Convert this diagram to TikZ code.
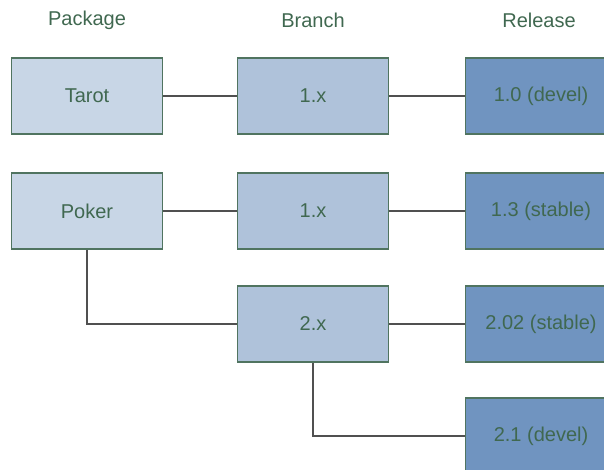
\documentclass[tikz,border=0pt]{standalone}
\usepackage{fontspec}
\setmainfont{Liberation Sans}
\usepackage{xcolor}
\definecolor{pkgfill}{RGB}{200,214,230}
\definecolor{branchfill}{RGB}{175,194,218}
\definecolor{relfill}{RGB}{112,148,192}
\definecolor{boxline}{RGB}{80,116,96}
\definecolor{labelgreen}{RGB}{64,104,80}
\definecolor{wire}{RGB}{80,80,80}

\begin{document}
\begin{tikzpicture}[x=1pt, y=-1pt,
    every node/.style={font=\fontsize{20}{24}\selectfont, text=labelgreen},
    box/.style={draw=boxline, line width=1.5pt, minimum width=151pt, minimum height=76pt, inner sep=0pt},
    pkg/.style={box, fill=pkgfill},
    branch/.style={box, fill=branchfill},
    rel/.style={box, fill=relfill},
    wire/.style={draw=wire, line width=1.6pt}]
    \useasboundingbox (0,0) rectangle (604,470);
    \clip (0,0) rectangle (604,470);

    \node (hpkg) at (87,20) {Package};
    \node (hbranch) at (313,20) {Branch};
    \node (hrel) at (539,20) {Release};

    \node[pkg] (tarot) at (87,96) {Tarot};
    \node[branch] (tarot1) at (313,96) {1.x};
    \node[rel] (tarot10) at (541,96) {1.0 (devel)};

    \node[pkg] (poker) at (87,211) {Poker};
    \node[branch] (poker1) at (313,211) {1.x};
    \node[rel] (poker13) at (541,211) {1.3 (stable)};

    \node[branch] (poker2) at (313,324) {2.x};
    \node[rel] (poker202) at (541,324) {2.02 (stable)};

    \node[rel] (poker21) at (541,436) {2.1 (devel)};

    \draw[wire] (tarot) -- (tarot1) -- (tarot10);
    \draw[wire] (poker) -- (poker1) -- (poker13);
    \draw[wire] (poker2) -- (poker202);
    \draw[wire] (poker.south) |- (poker2.west);
    \draw[wire] (poker2.south) |- (poker21.west);
\end{tikzpicture}
\end{document}
